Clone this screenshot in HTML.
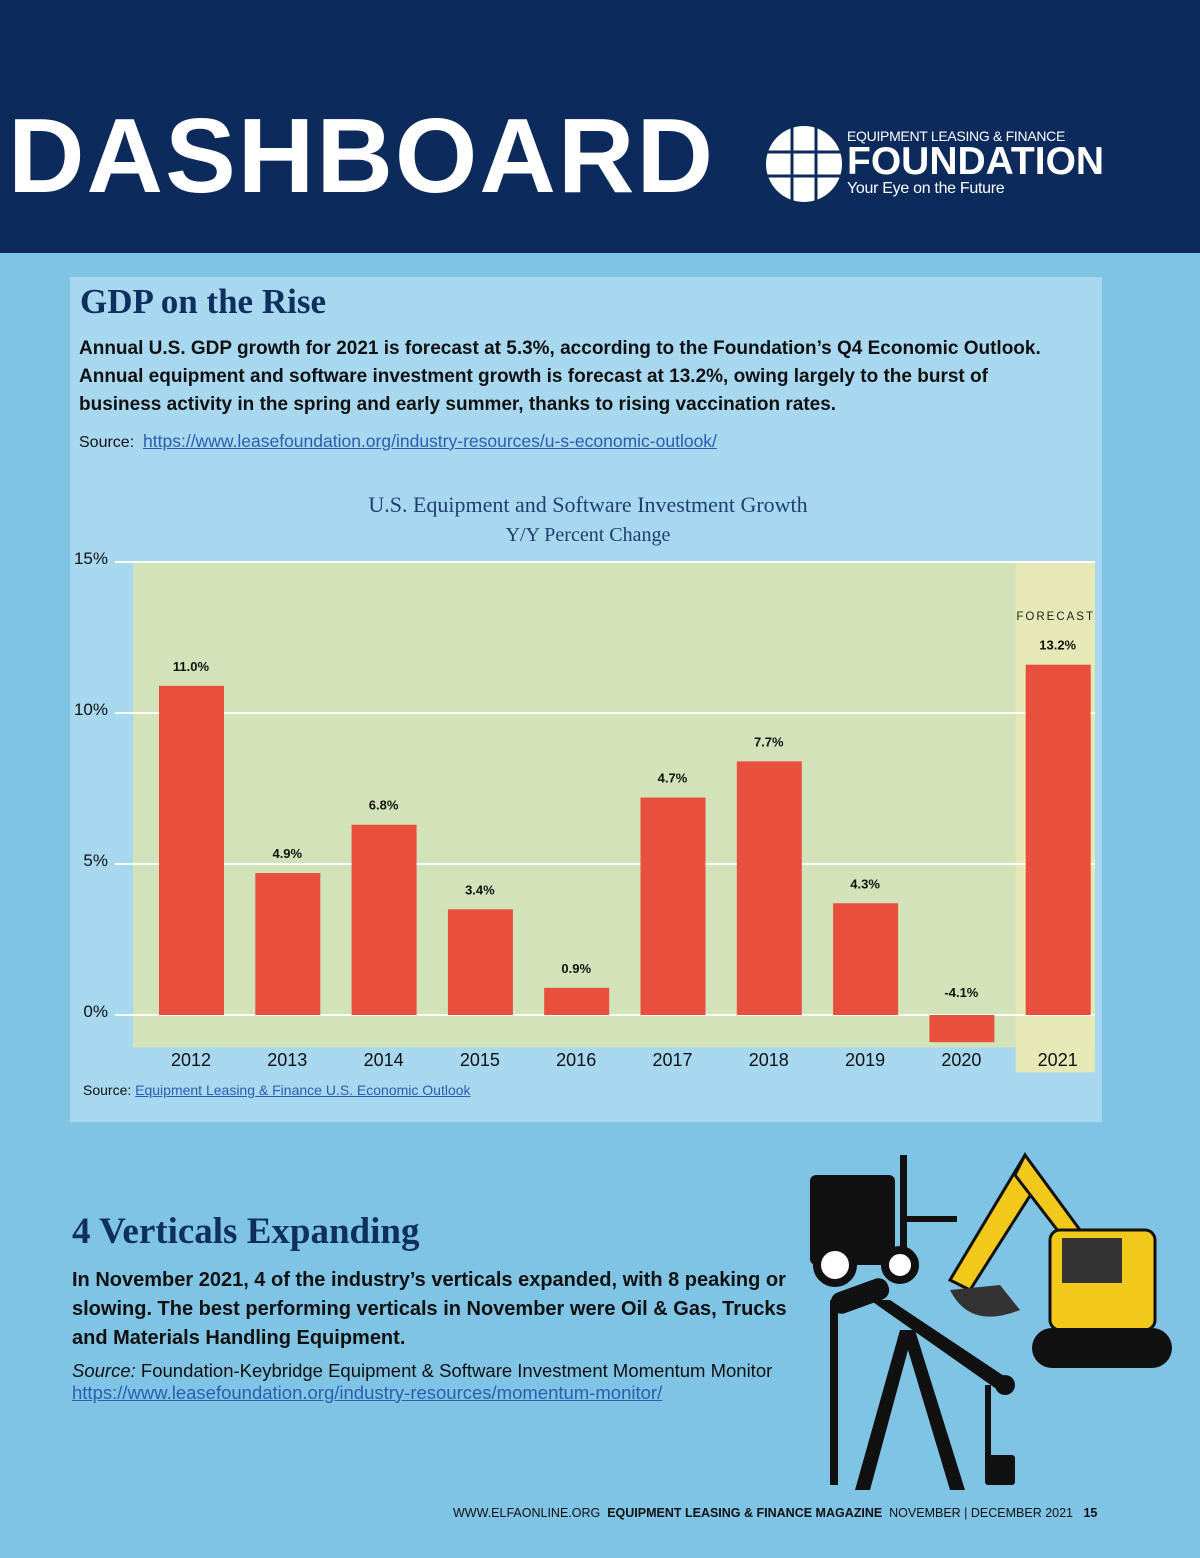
<!DOCTYPE html>
<html><head><meta charset="utf-8"><style>
*{margin:0;padding:0;box-sizing:border-box}
body{width:1200px;height:1558px;position:relative;overflow:hidden;background:#7fc4e4;font-family:"Liberation Sans",sans-serif}
.abs{position:absolute}
a{color:#2a5db0;text-decoration:underline}
</style></head><body>
<div class="abs" style="left:0;top:0;width:1200px;height:253px;background:#0c2a5b"></div>
<div class="abs" style="left:8px;top:96px;font-size:106px;font-weight:bold;color:#fff;letter-spacing:2px;line-height:120px">DASHBOARD</div>
<svg class="abs" style="left:765px;top:125px" width="78" height="78"><circle cx="39" cy="39" r="38" fill="#fff"/><g stroke="#0c2a5b" stroke-width="3"><line x1="0" y1="27" x2="78" y2="27"/><line x1="0" y1="51" x2="78" y2="51"/><line x1="27" y1="0" x2="27" y2="78"/><line x1="51" y1="0" x2="51" y2="78"/></g></svg>
<div class="abs" style="left:847px;top:128px;color:#fff">
<div style="font-size:14px;letter-spacing:-0.3px">EQUIPMENT LEASING &amp; FINANCE</div>
<div style="font-size:39px;font-weight:bold;line-height:36px;letter-spacing:0px">FOUNDATION</div>
<div style="font-size:16px;letter-spacing:-0.3px">Your Eye on the Future</div></div>

<div class="abs" style="left:70px;top:277px;width:1032px;height:845px;background:#a8d8ef"></div>
<div class="abs" style="left:80px;top:282px;font-size:35px;font-weight:bold;color:#0f2f5e;font-family:'Liberation Serif',serif">GDP on the Rise</div>
<div class="abs" style="left:79px;top:335px;width:1000px;font-size:19px;font-weight:bold;color:#111;line-height:28px">Annual U.S. GDP growth for 2021 is forecast at 5.3%, according to the Foundation’s Q4 Economic Outlook. Annual equipment and software investment growth is forecast at 13.2%, owing largely to the burst of<br>business activity in the spring and early summer, thanks to rising vaccination rates.</div>
<div class="abs" style="left:79px;top:431px;font-size:16px;color:#111">Source: &nbsp;<a style="font-size:17.5px">https://www.leasefoundation.org/industry-resources/u-s-economic-outlook/</a></div>

<div class="abs" style="left:0;width:1176px;top:492px;text-align:center;font-size:22px;color:#1f3f6e;font-family:'Liberation Serif',serif">U.S. Equipment and Software Investment Growth</div>
<div class="abs" style="left:0;width:1176px;top:524px;text-align:center;font-size:20px;color:#1f3f6e;font-family:'Liberation Serif',serif">Y/Y Percent Change</div>
<svg class="abs" id="chart" style="left:0;top:540px" width="1200" height="545"></svg>
<div class="abs" style="left:83px;top:1082px;font-size:14px;color:#111">Source: <a style="color:#2a5db0">Equipment Leasing &amp; Finance U.S. Economic Outlook</a></div>

<div class="abs" style="left:72px;top:1210px;font-size:37px;font-weight:bold;color:#0f2f5e;font-family:'Liberation Serif',serif">4 Verticals Expanding</div>
<div class="abs" style="left:72px;top:1266px;width:730px;font-size:20px;font-weight:bold;color:#111;line-height:29px">In November 2021, 4 of the industry’s verticals expanded, with 8 peaking or slowing. The best performing verticals in November were Oil &amp; Gas, Trucks and Materials Handling Equipment.</div>
<div class="abs" style="left:72px;top:1360px;font-size:18.5px;color:#111"><i>Source:</i> Foundation-Keybridge Equipment &amp; Software Investment Momentum Monitor<br><a>https://www.leasefoundation.org/industry-resources/momentum-monitor/</a></div>

<svg class="abs" style="left:800px;top:1150px" width="390" height="345">
<g fill="#111"><rect x="10" y="25" width="85" height="90" rx="6"/><rect x="100" y="5" width="7" height="115"/><rect x="107" y="66" width="50" height="6"/><circle cx="35" cy="115" r="18" fill="#fff" stroke="#111" stroke-width="8"/><circle cx="100" cy="115" r="15" fill="#fff" stroke="#111" stroke-width="8"/></g>
<g><polygon points="150,130 225,5 240,30 170,140" fill="#f2c81a" stroke="#111" stroke-width="3"/><polygon points="225,5 280,80 265,90 215,25" fill="#f2c81a" stroke="#111" stroke-width="3"/><rect x="250" y="80" width="105" height="100" rx="10" fill="#f2c81a" stroke="#111" stroke-width="3"/><rect x="262" y="88" width="60" height="45" fill="#333"/><rect x="232" y="178" width="140" height="40" rx="20" fill="#111"/><path d="M150 140 q20 40 70 20 l-20 -25z" fill="#333"/></g>
<g fill="#111"><rect x="30" y="135" width="60" height="22" rx="10" transform="rotate(-20 60 146)"/><polygon points="70,150 90,150 210,230 205,245"/><rect x="195" y="225" width="20" height="20" rx="10"/><rect x="185" y="235" width="6" height="75"/><rect x="185" y="305" width="30" height="30" rx="3"/><polygon points="55,340 100,180 115,180 165,340 150,340 108,200 70,340"/><rect x="30" y="150" width="8" height="185"/></g>
</svg>

<div class="abs" style="left:453px;top:1506px;font-size:12.5px;color:#111">WWW.ELFAONLINE.ORG &nbsp;<b>EQUIPMENT LEASING &amp; FINANCE MAGAZINE</b> &nbsp;NOVEMBER | DECEMBER 2021 &nbsp;&nbsp;<b>15</b></div>

<script>
const categories=["2012","2013","2014","2015","2016","2017","2018","2019","2020","2021"];
const barValues=[10.9,4.7,6.3,3.5,0.9,7.2,8.4,3.7,-0.9,11.6];
const valueLabels=["11.0%","4.9%","6.8%","3.4%","0.9%","4.7%","7.7%","4.3%","-4.1%","13.2%"];
const yTicks=[0,5,10,15];
const tickLabels=["0%","5%","10%","15%"];
const svg=document.getElementById('chart');
const NS="http://www.w3.org/2000/svg";
const y0=475, pxPer=30.2;
function y(v){return y0-v*pxPer;}
function x(i){return 191+i*96.3;}
function mk(t,a,parent){const e=document.createElementNS(NS,t);for(const k in a)e.setAttribute(k,a[k]);(parent||svg).appendChild(e);return e;}
let bg=mk('rect',{x:133,y:y(15),width:962,height:y(-1.07)-y(15),fill:'#d3e3b9'});


let fc=mk('rect',{x:x(9)-42,y:y(15),width:79,height:y(-1.9)-y(15),fill:'#e6e9b6'});


let ft=mk('text',{x:x(9)-2,y:80,'text-anchor':'middle','font-size':11.5,'letter-spacing':2,fill:'#222','font-family':'Liberation Sans'});ft.textContent='FORECAST';


yTicks.forEach((t,i)=>{
 const l=mk('line',{x1:115,x2:1095,y1:y(t),y2:y(t),stroke:'#fff','stroke-width':2});
 
 
 const tx=mk('text',{x:108,y:y(t)+2,'text-anchor':'end','font-size':17,fill:'#111','font-family':'Liberation Sans'});tx.textContent=tickLabels[i];
 
 
});
categories.forEach((c,i)=>{
 const v=barValues[i];
 const r=mk('rect',{x:x(i)-32,y:Math.min(y(v),y(0)),width:65,height:Math.abs(y(v)-y(0)),fill:'#e8503d'});
 
 
 const lt=mk('text',{x:x(i),y:(v>=0?y(v):y(0))-15,'text-anchor':'middle','font-size':13,'font-weight':'bold',fill:'#111','font-family':'Liberation Sans'});lt.textContent=valueLabels[i];
 if(v<0){lt.setAttribute('y',y(0)-18);}
 
 
 const ct=mk('text',{x:x(i),y:526,'text-anchor':'middle','font-size':18,fill:'#111','font-family':'Liberation Sans'});ct.textContent=c;
 
 
});
</script>
</body></html>
